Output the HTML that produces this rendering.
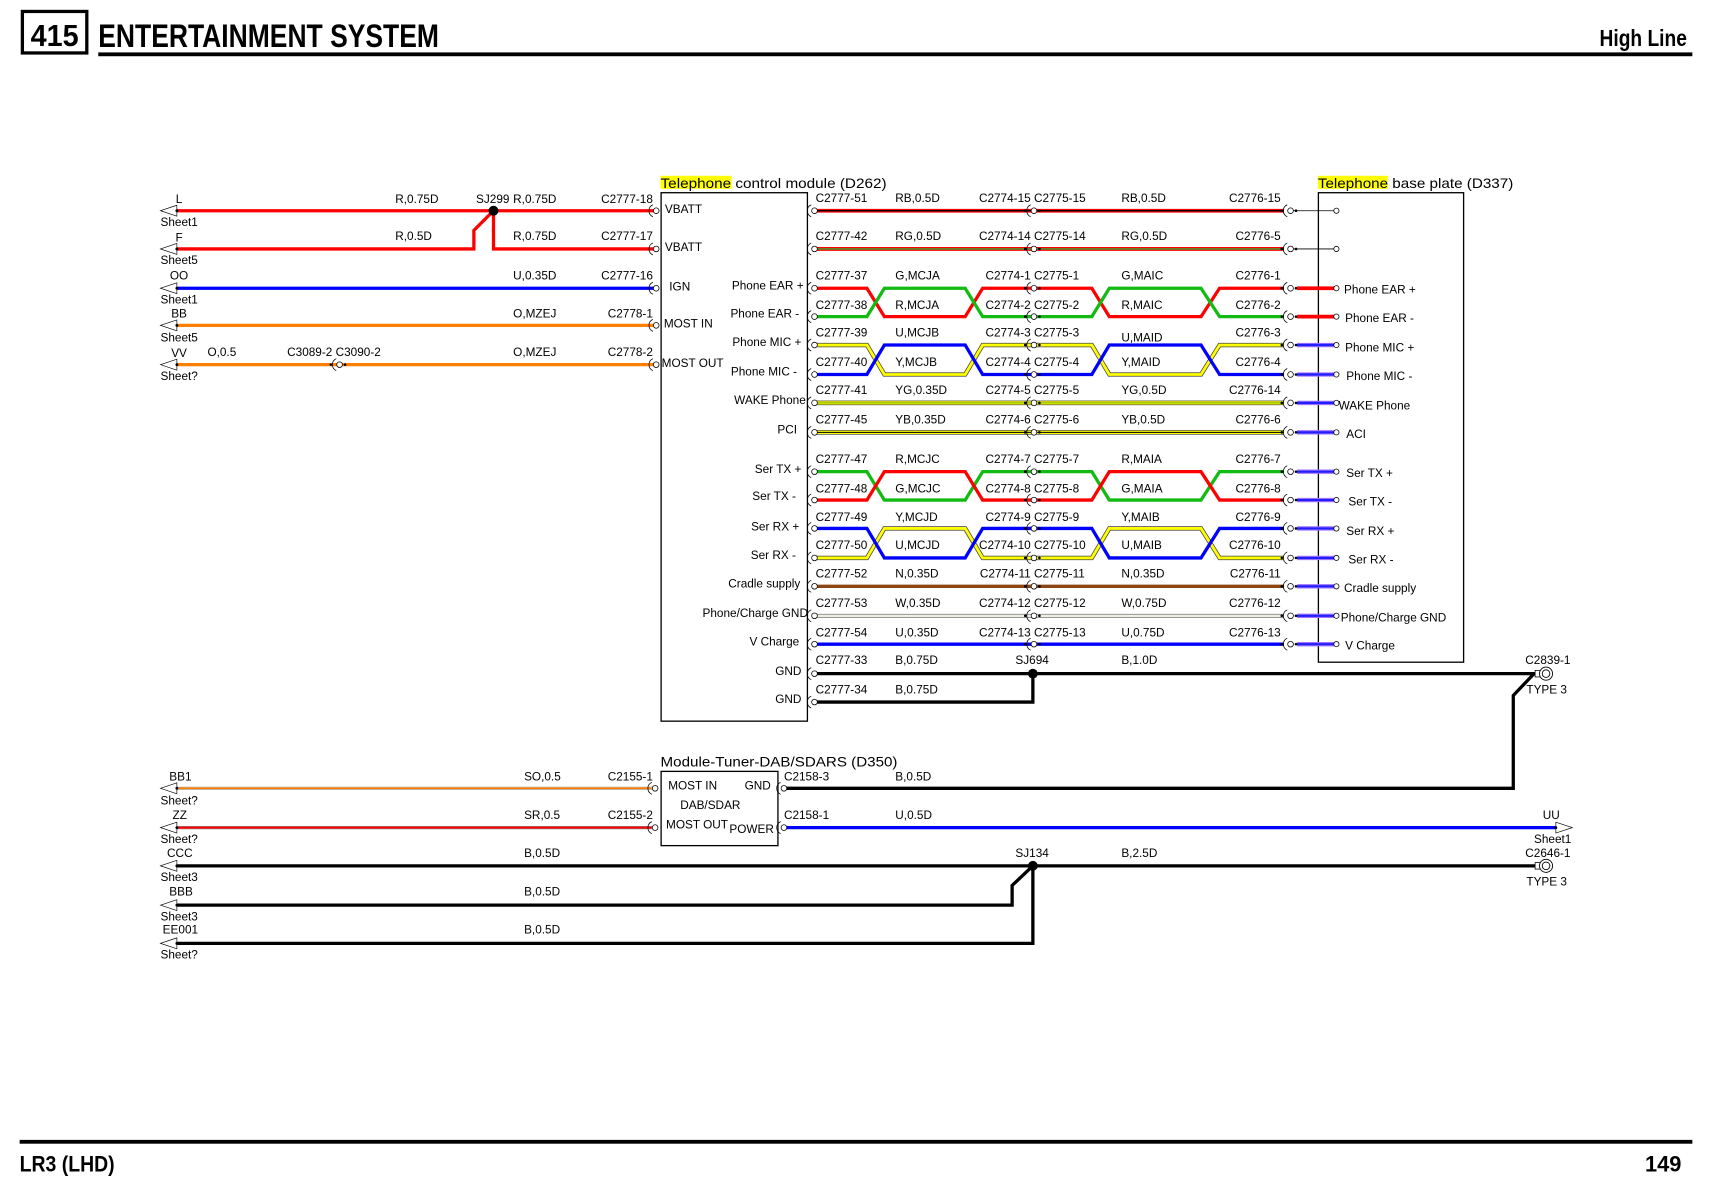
<!DOCTYPE html>
<html><head><meta charset="utf-8"><style>
html,body{margin:0;padding:0;background:#fff}
svg{display:block}
text{font-family:"Liberation Sans",sans-serif;font-size:10.8px;fill:#000}
.h{font-family:"Liberation Sans Narrow","Liberation Sans",sans-serif;font-weight:bold}
.t{font-size:13px}
.w{fill:none;stroke-linejoin:miter}
</style></head><body>
<svg width="1712" height="1196" viewBox="0 0 1568 1095.4" xmlns="http://www.w3.org/2000/svg">
<defs>
<g id="cn"><path d="M-1,-5.5 A6,6 0 0 0 -1,5.5" fill="none" stroke="#000" stroke-width=".7"/><circle cx="2" r="2.6" fill="#fff" stroke="#000" stroke-width=".7"/></g>
<g id="cm"><circle cx="-7" r="1.2" fill="#000"/><path d="M-2,-5.5 A6,6 0 0 0 -2,5.5" fill="none" stroke="#000" stroke-width=".7"/><circle cx="1" r="2.6" fill="#fff" stroke="#000" stroke-width=".7"/><circle cx="6" r="1.2" fill="#000"/></g>
<g id="la"><path d="M0,0 L15,-5 L15,5 Z" fill="#fff" stroke="#000" stroke-width=".6"/><circle cx="15" r="1.3"/></g>
<g id="pc"><circle r="2.4" fill="#fff" stroke="#000" stroke-width=".7"/></g>
<g id="ty"><rect x="-4" y="-3" width="5" height="6" fill="#fff" stroke="#000" stroke-width=".7"/><circle cx="6" r="6" fill="#fff" stroke="#000" stroke-width=".8"/><circle cx="6" r="3.5" fill="none" stroke="#000" stroke-width=".8"/></g>
</defs>

<!-- header -->
<rect x="20.5" y="10.5" width="59" height="38" fill="none" stroke="#000" stroke-width="3"/>
<text x="50" y="42" text-anchor="middle" class="h" style="font-size:28px" textLength="44" lengthAdjust="spacingAndGlyphs">415</text>
<text x="90" y="43" class="h" style="font-size:30px" textLength="312" lengthAdjust="spacingAndGlyphs">ENTERTAINMENT SYSTEM</text>
<rect x="90" y="48" width="1460" height="3.5"/>
<text x="1545" y="42" text-anchor="end" class="h" style="font-size:21px" textLength="80" lengthAdjust="spacingAndGlyphs">High Line</text>
<!-- footer -->
<rect x="18" y="1044" width="1532" height="3.5"/>
<text x="18" y="1073" class="h" style="font-size:20px" textLength="87" lengthAdjust="spacingAndGlyphs">LR3 (LHD)</text>
<text x="1540" y="1073" text-anchor="end" class="h" style="font-size:20px">149</text>

<!-- module boxes -->
<rect x="605.5" y="176.5" width="134" height="484" fill="none" stroke="#000" stroke-width="1.2"/>
<rect x="605" y="161" width="65" height="12" fill="#ff0"/>
<text x="605" y="172" class="t" textLength="207" lengthAdjust="spacingAndGlyphs">Telephone control module (D262)</text>
<rect x="1207.5" y="176.5" width="133" height="430" fill="none" stroke="#000" stroke-width="1.2"/>
<rect x="1207" y="161" width="64" height="12" fill="#ff0"/>
<text x="1207" y="172" class="t" textLength="179" lengthAdjust="spacingAndGlyphs">Telephone base plate (D337)</text>
<rect x="605.5" y="706.5" width="107" height="68" fill="none" stroke="#000" stroke-width="1.2"/>
<text x="605" y="702" class="t" textLength="217" lengthAdjust="spacingAndGlyphs">Module-Tuner-DAB/SDARS (D350)</text>

<!-- left wires top -->
<g class="w" stroke-width="3">
<path d="M162,193 H599" stroke="#f00"/>
<path d="M162,228 H434 V211 L452,193 V228 H599" stroke="#f00"/>
<path d="M162,264 H599" stroke="#00f"/>
<path d="M162,298 H599" stroke="#ff7f00"/>
<path d="M162,334 H599" stroke="#ff7f00"/>
</g>
<circle cx="452" cy="193" r="4.5"/>
<use href="#la" x="147" y="193"/><use href="#la" x="147" y="228"/><use href="#la" x="147" y="264"/><use href="#la" x="147" y="298"/><use href="#la" x="147" y="334"/>
<use href="#cn" x="599" y="193"/><use href="#cn" x="599" y="228"/><use href="#cn" x="599" y="264"/><use href="#cn" x="599" y="298"/><use href="#cn" x="599" y="334"/>
<use href="#cm" x="310" y="334"/>
<text x="164" y="186" text-anchor="middle">L</text><text x="147" y="207">Sheet1</text>
<text x="164" y="221" text-anchor="middle">F</text><text x="147" y="242">Sheet5</text>
<text x="164" y="256" text-anchor="middle">OO</text><text x="147" y="278">Sheet1</text>
<text x="164" y="291" text-anchor="middle">BB</text><text x="147" y="313">Sheet5</text>
<text x="164" y="327" text-anchor="middle">VV</text><text x="147" y="348">Sheet?</text>
<text x="362" y="186">R,0.75D</text><text x="436" y="186">SJ299</text><text x="470" y="186">R,0.75D</text><text x="598" y="186" text-anchor="end">C2777-18</text>
<text x="362" y="220">R,0.5D</text><text x="470" y="220">R,0.75D</text><text x="598" y="220" text-anchor="end">C2777-17</text>
<text x="470" y="256">U,0.35D</text><text x="598" y="256" text-anchor="end">C2777-16</text>
<text x="470" y="291">O,MZEJ</text><text x="598" y="291" text-anchor="end">C2778-1</text>
<text x="190" y="326">O,0.5</text><text x="263" y="326">C3089-2 C3090-2</text><text x="470" y="326">O,MZEJ</text><text x="598" y="326" text-anchor="end">C2778-2</text>
<text x="609" y="195">VBATT</text><text x="609" y="230">VBATT</text><text x="613" y="266">IGN</text><text x="608" y="300">MOST IN</text><text x="606" y="336">MOST OUT</text>

<!-- right module labels -->
<g text-anchor="end">
<text x="736" y="265">Phone EAR +</text><text x="732" y="291">Phone EAR -</text><text x="734" y="317">Phone MIC +</text><text x="730" y="344">Phone MIC -</text>
<text x="738" y="370">WAKE Phone</text><text x="730" y="397">PCI</text><text x="734" y="433">Ser TX +</text><text x="729" y="458">Ser TX -</text>
<text x="732" y="486">Ser RX +</text><text x="729" y="512">Ser RX -</text><text x="733" y="538">Cradle supply</text><text x="740" y="565">Phone/Charge GND</text>
<text x="732" y="591">V Charge</text><text x="734" y="618">GND</text><text x="734" y="644">GND</text>
</g>

<!-- right wires single -->
<g class="w">
<path d="M748,193 H1176" stroke="#f00" stroke-width="3.5"/><path d="M748,193 H1176" stroke="#000" stroke-width="1.3"/>
<path d="M748,228 H1176" stroke="#f00" stroke-width="3.5"/><path d="M748,228 H1176" stroke="#3a3" stroke-width="1.2"/>
<path d="M748,369 H1176" stroke="#333" stroke-width="4.2"/><path d="M748,369 H1176" stroke="#ff0" stroke-width="3"/><path d="M748,369 H1176" stroke="#7a0" stroke-width="1"/>
<path d="M748,396 H1176" stroke="#333" stroke-width="4.2"/><path d="M748,396 H1176" stroke="#ff0" stroke-width="3"/><path d="M748,396 H1176" stroke="#000" stroke-width="1"/>
<path d="M748,537 H1176" stroke="#8b4513" stroke-width="3"/>
<path d="M748,564 H1176" stroke="#777" stroke-width="3.5"/><path d="M748,564 H1176" stroke="#eeeee4" stroke-width="2.2"/>
<path d="M748,590 H1176" stroke="#00f" stroke-width="3"/>
<path d="M748,617 H1390 L1406,617" stroke="#000" stroke-width="3"/>
<path d="M748,643 H946 V617" stroke="#000" stroke-width="3"/>
<path d="M718,722 H1386 V637 L1405,617" stroke="#000" stroke-width="3"/>
<path d="M748,264 H794 L810,290 H884 L900,264 H1000 L1016,290 H1100 L1117,264 H1176" stroke="#f00" stroke-width="3"/>
<path d="M748,290 H794 L810,264 H884 L900,290 H1000 L1016,264 H1100 L1117,290 H1176" stroke="#1b1" stroke-width="3"/>
<path d="M748,316 H794 L810,343 H884 L900,316 H1000 L1016,343 H1100 L1117,316 H1176" stroke="#444" stroke-width="4"/>
<path d="M748,316 H794 L810,343 H884 L900,316 H1000 L1016,343 H1100 L1117,316 H1176" stroke="#ff0" stroke-width="2.6"/>
<path d="M748,343 H794 L810,316 H884 L900,343 H1000 L1016,316 H1100 L1117,343 H1176" stroke="#00f" stroke-width="3"/>
<path d="M748,432 H794 L810,458 H884 L900,432 H1000 L1016,458 H1100 L1117,432 H1176" stroke="#1b1" stroke-width="3"/>
<path d="M748,458 H794 L810,432 H884 L900,458 H1000 L1016,432 H1100 L1117,458 H1176" stroke="#f00" stroke-width="3"/>
<path d="M748,511 H794 L810,484 H884 L900,511 H1000 L1016,484 H1100 L1117,511 H1176" stroke="#444" stroke-width="4"/>
<path d="M748,511 H794 L810,484 H884 L900,511 H1000 L1016,484 H1100 L1117,511 H1176" stroke="#ff0" stroke-width="2.6"/>
<path d="M748,484 H794 L810,511 H884 L900,484 H1000 L1016,511 H1100 L1117,484 H1176" stroke="#00f" stroke-width="3"/>
<path d="M1184,193 H1222 M1184,228 H1222" stroke="#000" stroke-width=".7"/>
<path d="M1188,264 H1222 M1188,290 H1222" stroke="#f00" stroke-width="3.5"/>
<path d="M1188,316 H1222 M1188,343 H1222 M1188,369 H1222 M1188,396 H1222 M1188,432 H1222 M1188,458 H1222 M1188,484 H1222 M1188,511 H1222 M1188,537 H1222 M1188,564 H1222 M1188,590 H1222" stroke="#a070ff" stroke-width="4"/>
<path d="M1188,316 H1222 M1188,343 H1222 M1188,369 H1222 M1188,396 H1222 M1188,432 H1222 M1188,458 H1222 M1188,484 H1222 M1188,511 H1222 M1188,537 H1222 M1188,564 H1222 M1188,590 H1222" stroke="#2020ff" stroke-width="2"/>
</g>
<circle cx="946" cy="617" r="4.5"/>
<g>
<use href="#cn" x="744" y="193"/><use href="#cn" x="744" y="228"/><use href="#cn" x="744" y="264"/><use href="#cn" x="744" y="290"/><use href="#cn" x="744" y="316"/><use href="#cn" x="744" y="343"/><use href="#cn" x="744" y="369"/><use href="#cn" x="744" y="396"/><use href="#cn" x="744" y="432"/><use href="#cn" x="744" y="458"/><use href="#cn" x="744" y="484"/><use href="#cn" x="744" y="511"/><use href="#cn" x="744" y="537"/><use href="#cn" x="744" y="564"/><use href="#cn" x="744" y="590"/><use href="#cn" x="744" y="617"/><use href="#cn" x="744" y="643"/>
<use href="#cm" x="946" y="193"/><use href="#cm" x="946" y="228"/><use href="#cm" x="946" y="264"/><use href="#cm" x="946" y="290"/><use href="#cm" x="946" y="316"/><use href="#cm" x="946" y="343"/><use href="#cm" x="946" y="369"/><use href="#cm" x="946" y="396"/><use href="#cm" x="946" y="432"/><use href="#cm" x="946" y="458"/><use href="#cm" x="946" y="484"/><use href="#cm" x="946" y="511"/><use href="#cm" x="946" y="537"/><use href="#cm" x="946" y="564"/><use href="#cm" x="946" y="590"/>
<use href="#cm" x="1181" y="193"/><use href="#cm" x="1181" y="228"/><use href="#cm" x="1181" y="264"/><use href="#cm" x="1181" y="290"/><use href="#cm" x="1181" y="316"/><use href="#cm" x="1181" y="343"/><use href="#cm" x="1181" y="369"/><use href="#cm" x="1181" y="396"/><use href="#cm" x="1181" y="432"/><use href="#cm" x="1181" y="458"/><use href="#cm" x="1181" y="484"/><use href="#cm" x="1181" y="511"/><use href="#cm" x="1181" y="537"/><use href="#cm" x="1181" y="564"/><use href="#cm" x="1181" y="590"/>
<use href="#pc" x="1224" y="193"/><use href="#pc" x="1224" y="228"/><use href="#pc" x="1224" y="264"/><use href="#pc" x="1224" y="290"/><use href="#pc" x="1224" y="316"/><use href="#pc" x="1224" y="343"/><use href="#pc" x="1224" y="369"/><use href="#pc" x="1224" y="396"/><use href="#pc" x="1224" y="432"/><use href="#pc" x="1224" y="458"/><use href="#pc" x="1224" y="484"/><use href="#pc" x="1224" y="511"/><use href="#pc" x="1224" y="537"/><use href="#pc" x="1224" y="564"/><use href="#pc" x="1224" y="590"/>
</g>
<use href="#ty" x="1410" y="617"/>
<text x="1397" y="608">C2839-1</text><text x="1398" y="635">TYPE 3</text>

<g>
<text x="747" y="185">C2777-51</text><text x="820" y="185">RB,0.5D</text><text x="944" y="185" text-anchor="end">C2774-15</text><text x="947" y="185">C2775-15</text><text x="1027" y="185">RB,0.5D</text><text x="1173" y="185" text-anchor="end">C2776-15</text>
<text x="747" y="220">C2777-42</text><text x="820" y="220">RG,0.5D</text><text x="944" y="220" text-anchor="end">C2774-14</text><text x="947" y="220">C2775-14</text><text x="1027" y="220">RG,0.5D</text><text x="1173" y="220" text-anchor="end">C2776-5</text>
<text x="747" y="256">C2777-37</text><text x="820" y="256">G,MCJA</text><text x="944" y="256" text-anchor="end">C2774-1</text><text x="947" y="256">C2775-1</text><text x="1027" y="256">G,MAIC</text><text x="1173" y="256" text-anchor="end">C2776-1</text>
<text x="747" y="283">C2777-38</text><text x="820" y="283">R,MCJA</text><text x="944" y="283" text-anchor="end">C2774-2</text><text x="947" y="283">C2775-2</text><text x="1027" y="283">R,MAIC</text><text x="1173" y="283" text-anchor="end">C2776-2</text>
<text x="747" y="308">C2777-39</text><text x="820" y="308">U,MCJB</text><text x="944" y="308" text-anchor="end">C2774-3</text><text x="947" y="308">C2775-3</text><text x="1027" y="313">U,MAID</text><text x="1173" y="308" text-anchor="end">C2776-3</text>
<text x="747" y="335">C2777-40</text><text x="820" y="335">Y,MCJB</text><text x="944" y="335" text-anchor="end">C2774-4</text><text x="947" y="335">C2775-4</text><text x="1027" y="335">Y,MAID</text><text x="1173" y="335" text-anchor="end">C2776-4</text>
<text x="747" y="361">C2777-41</text><text x="820" y="361">YG,0.35D</text><text x="944" y="361" text-anchor="end">C2774-5</text><text x="947" y="361">C2775-5</text><text x="1027" y="361">YG,0.5D</text><text x="1173" y="361" text-anchor="end">C2776-14</text>
<text x="747" y="388">C2777-45</text><text x="820" y="388">YB,0.35D</text><text x="944" y="388" text-anchor="end">C2774-6</text><text x="947" y="388">C2775-6</text><text x="1027" y="388">YB,0.5D</text><text x="1173" y="388" text-anchor="end">C2776-6</text>
<text x="747" y="424">C2777-47</text><text x="820" y="424">R,MCJC</text><text x="944" y="424" text-anchor="end">C2774-7</text><text x="947" y="424">C2775-7</text><text x="1027" y="424">R,MAIA</text><text x="1173" y="424" text-anchor="end">C2776-7</text>
<text x="747" y="451">C2777-48</text><text x="820" y="451">G,MCJC</text><text x="944" y="451" text-anchor="end">C2774-8</text><text x="947" y="451">C2775-8</text><text x="1027" y="451">G,MAIA</text><text x="1173" y="451" text-anchor="end">C2776-8</text>
<text x="747" y="477">C2777-49</text><text x="820" y="477">Y,MCJD</text><text x="944" y="477" text-anchor="end">C2774-9</text><text x="947" y="477">C2775-9</text><text x="1027" y="477">Y,MAIB</text><text x="1173" y="477" text-anchor="end">C2776-9</text>
<text x="747" y="503">C2777-50</text><text x="820" y="503">U,MCJD</text><text x="944" y="503" text-anchor="end">C2774-10</text><text x="947" y="503">C2775-10</text><text x="1027" y="503">U,MAIB</text><text x="1173" y="503" text-anchor="end">C2776-10</text>
<text x="747" y="529">C2777-52</text><text x="820" y="529">N,0.35D</text><text x="944" y="529" text-anchor="end">C2774-11</text><text x="947" y="529">C2775-11</text><text x="1027" y="529">N,0.35D</text><text x="1173" y="529" text-anchor="end">C2776-11</text>
<text x="747" y="556">C2777-53</text><text x="820" y="556">W,0.35D</text><text x="944" y="556" text-anchor="end">C2774-12</text><text x="947" y="556">C2775-12</text><text x="1027" y="556">W,0.75D</text><text x="1173" y="556" text-anchor="end">C2776-12</text>
<text x="747" y="583">C2777-54</text><text x="820" y="583">U,0.35D</text><text x="944" y="583" text-anchor="end">C2774-13</text><text x="947" y="583">C2775-13</text><text x="1027" y="583">U,0.75D</text><text x="1173" y="583" text-anchor="end">C2776-13</text>
<text x="747" y="608">C2777-33</text><text x="820" y="608">B,0.75D</text><text x="930" y="608">SJ694</text><text x="1027" y="608">B,1.0D</text>
<text x="747" y="635">C2777-34</text><text x="820" y="635">B,0.75D</text>
</g>
<text x="1231" y="269">Phone EAR +</text><text x="1232" y="295">Phone EAR -</text><text x="1232" y="322">Phone MIC +</text><text x="1233" y="348">Phone MIC -</text>
<text x="1226" y="375">WAKE Phone</text><text x="1233" y="401">ACI</text><text x="1233" y="437">Ser TX +</text><text x="1235" y="463">Ser TX -</text>
<text x="1233" y="490">Ser RX +</text><text x="1235" y="516">Ser RX -</text><text x="1231" y="542">Cradle supply</text><text x="1228" y="569">Phone/Charge GND</text><text x="1232" y="595">V Charge</text>

<g class="w">
<path d="M162,722 H597" stroke="#bbb" stroke-width="3"/><path d="M162,722 H597" stroke="#ff7f00" stroke-width="1.6"/>
<path d="M162,758 H597" stroke="#888" stroke-width="3"/><path d="M162,758 H597" stroke="#f00" stroke-width="1.8"/>
<path d="M718,758 H1425" stroke="#00f" stroke-width="3"/>
<path d="M162,793 H1406" stroke="#000" stroke-width="3"/>
<path d="M162,829 H927 V811 L946,793" stroke="#000" stroke-width="3"/>
<path d="M162,864 H946 V793" stroke="#000" stroke-width="3"/>
</g>
<circle cx="946" cy="793" r="4.5"/>
<use href="#la" x="147" y="722"/><use href="#la" x="147" y="758"/><use href="#la" x="147" y="793"/><use href="#la" x="147" y="829"/><use href="#la" x="147" y="864"/>
<use href="#cn" x="598" y="722"/><use href="#cn" x="598" y="758"/><use href="#cn" x="716" y="722"/><use href="#cn" x="716" y="758"/>
<path d="M1440,758 L1425,753 L1425,763 Z" fill="#fff" stroke="#000" stroke-width=".6"/><circle cx="1425" cy="758" r="1.3"/>
<use href="#ty" x="1410" y="793"/>
<text x="155" y="715">BB1</text><text x="147" y="737">Sheet?</text>
<text x="158" y="750">ZZ</text><text x="147" y="772">Sheet?</text>
<text x="153" y="785">CCC</text><text x="147" y="807">Sheet3</text>
<text x="155" y="820">BBB</text><text x="147" y="843">Sheet3</text>
<text x="149" y="855">EE001</text><text x="147" y="878">Sheet?</text>
<text x="480" y="715">SO,0.5</text><text x="598" y="715" text-anchor="end">C2155-1</text>
<text x="480" y="750">SR,0.5</text><text x="598" y="750" text-anchor="end">C2155-2</text>
<text x="480" y="785">B,0.5D</text><text x="930" y="785">SJ134</text><text x="1027" y="785">B,2.5D</text><text x="1397" y="785">C2646-1</text><text x="1398" y="811">TYPE 3</text>
<text x="480" y="820">B,0.5D</text><text x="480" y="855">B,0.5D</text>
<text x="718" y="715">C2158-3</text><text x="820" y="715">B,0.5D</text>
<text x="718" y="750">C2158-1</text><text x="820" y="750">U,0.5D</text>
<text x="1413" y="750">UU</text><text x="1405" y="772">Sheet1</text>
<text x="612" y="723">MOST IN</text><text x="682" y="723">GND</text><text x="623" y="741">DAB/SDAR</text><text x="610" y="759">MOST OUT</text><text x="668" y="763">POWER</text>
</svg>
</body></html>
